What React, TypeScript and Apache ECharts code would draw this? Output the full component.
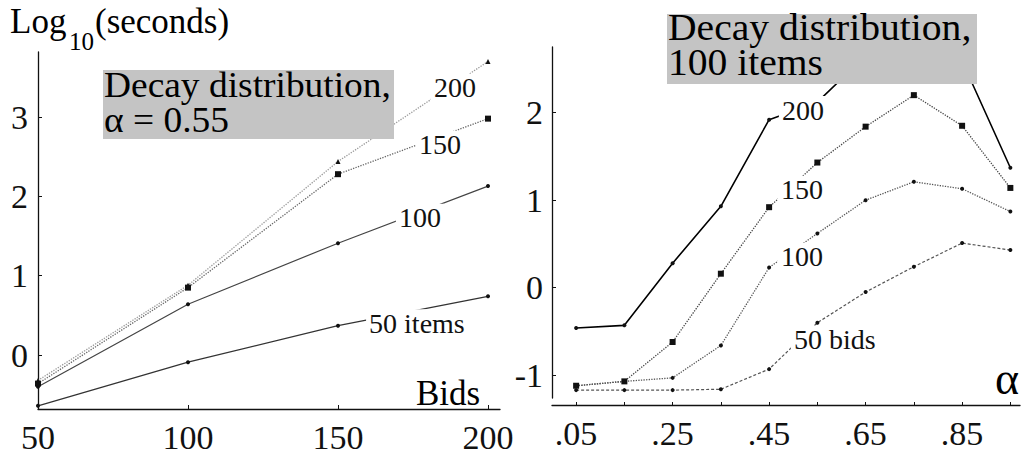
import React, { useEffect, useRef } from 'react';
import * as echarts from 'echarts';

// Left panel: Decay distribution, alpha = 0.55
const bids = [50, 100, 150, 200];
const items50 = [-0.64, -0.09, 0.37, 0.74];
const items100 = [-0.4, 0.64, 1.41, 2.13];
const items150 = [-0.36, 0.85, 2.28, 2.98];
const items200 = [-0.32, 0.88, 2.44, 3.7];
const leftYTicks = [0, 1, 2, 3];

// Right panel: Decay distribution, 100 items
const alphas = [0.05, 0.15, 0.25, 0.35, 0.45, 0.55, 0.65, 0.75, 0.85, 0.95];
const bids200 = [-0.46, -0.43, 0.28, 0.93, 1.92, 2.12, 2.65, 2.66, 2.59, 1.37];
const bids150 = [-1.12, -1.07, -0.62, 0.16, 0.92, 1.43, 1.84, 2.2, 1.85, 1.14];
const bids100 = [-1.12, -1.07, -1.03, -0.66, 0.23, 0.62, 1.0, 1.21, 1.13, 0.87];
const bids50 = [-1.17, -1.17, -1.17, -1.16, -0.93, -0.4, -0.05, 0.24, 0.51, 0.43];
const alphaLabels = [0.05, 0.25, 0.45, 0.65, 0.85];
const rightYTicks = [-1, 0, 1, 2];

const FONT = 'Liberation Serif';
const INK = '#111';

const pairs = (xs: number[], ys: number[]) => xs.map((x, i) => [x, ys[i]]);

function tag(name: string, coord: number[]) {
  return {
    symbol: 'rect',
    symbolSize: 1,
    itemStyle: { color: 'rgba(0,0,0,0)' },
    label: {
      show: true,
      position: 'inside',
      formatter: '{b}',
      fontFamily: FONT,
      fontSize: 28,
      color: INK,
      backgroundColor: '#fff',
      padding: [0, 3],
    },
    data: [{ name, coord }],
  };
}

function lineSeries(
  name: string,
  xi: number,
  data: number[][],
  color: string,
  type: any,
  width: number,
  symbol: string,
  symbolSize: number,
  mark: any
) {
  return {
    name,
    type: 'line',
    xAxisIndex: xi,
    yAxisIndex: xi,
    data,
    symbol,
    symbolSize,
    itemStyle: { color: '#111' },
    lineStyle: { color, type, width },
    markPoint: mark,
    z: 3,
  };
}

function boxText(text: string, x: number, y: number, size: number, lineHeight: number, scaleX: number) {
  return {
    type: 'text',
    z: 11,
    x,
    y,
    scaleX,
    style: { text, fontFamily: FONT, fontSize: size, lineHeight, fill: '#000', verticalAlign: 'top', align: 'left' },
  };
}

export default function App() {
  const ref = useRef<HTMLDivElement>(null);
  useEffect(() => {
    const chart = echarts.init(ref.current!, null, { renderer: 'svg' });
    const axisLabelBase = { fontFamily: FONT, fontSize: 34, color: INK };
    const option: any = {
      animation: false,
      backgroundColor: '#fff',
      textStyle: { fontFamily: FONT },
      grid: [
        { left: 38, top: 52, width: 462, height: 357 },
        { left: 552, top: 47, width: 468, height: 351 },
      ],
      xAxis: [
        {
          gridIndex: 0,
          type: 'value',
          min: 50,
          max: 204,
          axisLine: { onZero: false, lineStyle: { color: INK, width: 1.3 } },
          axisTick: { inside: true, length: 4, customValues: bids, lineStyle: { color: INK } },
          axisLabel: { ...axisLabelBase, margin: 11, customValues: bids },
          splitLine: { show: false },
        },
        {
          gridIndex: 1,
          type: 'value',
          min: 0,
          max: 0.97,
          offset: 7,
          axisLine: { onZero: false, lineStyle: { color: INK, width: 1.3 } },
          axisTick: { inside: true, length: 3, customValues: alphas, lineStyle: { color: INK } },
          axisLabel: {
            ...axisLabelBase,
            margin: 11,
            customValues: alphaLabels,
            formatter: (v: number) => v.toFixed(2).replace(/^0/, ''),
          },
          splitLine: { show: false },
        },
      ],
      yAxis: [
        {
          gridIndex: 0,
          type: 'value',
          min: -0.68,
          max: 3.82,
          axisLine: { show: true, onZero: false, lineStyle: { color: INK, width: 1.3 } },
          axisTick: { show: true, inside: true, length: 4, customValues: leftYTicks, lineStyle: { color: INK } },
          axisLabel: { ...axisLabelBase, margin: 10, customValues: leftYTicks },
          splitLine: { show: false },
        },
        {
          gridIndex: 1,
          type: 'value',
          min: -1.26,
          max: 2.75,
          axisLine: { show: true, onZero: false, lineStyle: { color: INK, width: 1.3 } },
          axisTick: { show: true, inside: true, length: 4, customValues: rightYTicks, lineStyle: { color: INK } },
          axisLabel: { ...axisLabelBase, margin: 9, customValues: rightYTicks },
          splitLine: { show: false },
        },
      ],
      series: [
        lineSeries('50 items', 0, pairs(bids, items50), '#333', 'solid', 1.2, 'circle', 4, tag('50 items', [176.3, 0.4])),
        lineSeries('100 items', 0, pairs(bids, items100), '#444', 'solid', 1.2, 'circle', 4, tag('100', [177.3, 1.73])),
        lineSeries('150 items', 0, pairs(bids, items150), '#666', 'dotted', 1.3, 'rect', 6, tag('150', [184, 2.65])),
        lineSeries('200 items', 0, pairs(bids, items200), '#999', 'dotted', 1.3, 'triangle', 5, tag('200', [189, 3.37])),
        lineSeries('200 bids', 1, pairs(alphas, bids200), '#000', 'solid', 1.6, 'circle', 4, tag('200', [0.52, 2.03])),
        lineSeries('150 bids', 1, pairs(alphas, bids150), '#444', 'dotted', 1.3, 'rect', 6, tag('150', [0.518, 1.12])),
        lineSeries('100 bids', 1, pairs(alphas, bids100), '#555', 'dotted', 1.3, 'circle', 4, tag('100', [0.518, 0.354])),
        lineSeries('50 bids', 1, pairs(alphas, bids50), '#555', [3, 2], 1.2, 'circle', 4, tag('50 bids', [0.586, -0.594])),
      ],
      graphic: [
        { type: 'rect', z: 10, shape: { x: 103, y: 70, width: 291, height: 69 }, style: { fill: '#c4c4c4' } },
        boxText('Decay distribution,\nα = 0.55', 104, 67, 36, 35, 1.04),
        { type: 'rect', z: 10, shape: { x: 667, y: 14, width: 310, height: 70 }, style: { fill: '#c4c4c4' } },
        boxText('Decay distribution,\n100 items', 668, 10, 37, 35, 1.07),
        { type: 'text', x: 10, y: 21, style: { text: 'Log', fontFamily: FONT, fontSize: 35, fill: '#000', verticalAlign: 'middle', align: 'left' } },
        { type: 'text', x: 69, y: 41, style: { text: '10', fontFamily: FONT, fontSize: 25, fill: '#000', verticalAlign: 'middle', align: 'left' } },
        { type: 'text', x: 95, y: 21, style: { text: '(seconds)', fontFamily: FONT, fontSize: 35, fill: '#000', verticalAlign: 'middle', align: 'left' } },
        { type: 'text', x: 448, y: 393, style: { text: 'Bids', fontFamily: FONT, fontSize: 35, fill: '#000', verticalAlign: 'middle', align: 'center' } },
        { type: 'text', x: 1007, y: 378, style: { text: 'α', fontFamily: FONT, fontSize: 46, fill: '#000', verticalAlign: 'middle', align: 'center' } },
      ],
    };
    chart.setOption(option);
    return () => chart.dispose();
  }, []);
  return (
    <div
      ref={ref}
      style={{ position: 'fixed', left: 0, top: 0, width: 1022, height: 454, background: '#fff' }}
    />
  );
}
